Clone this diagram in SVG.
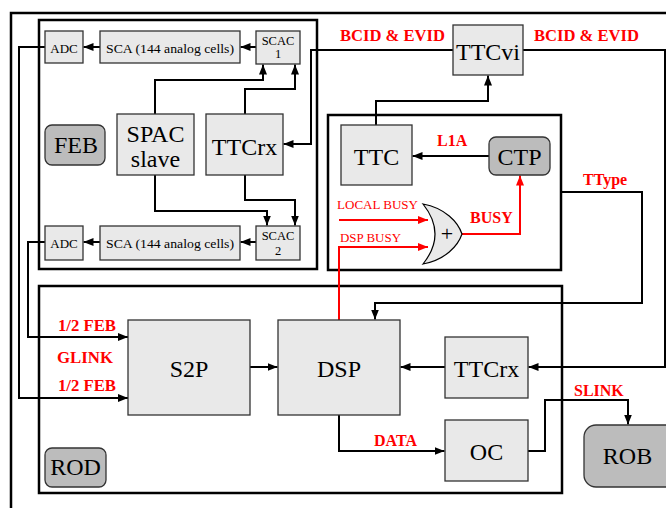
<svg xmlns="http://www.w3.org/2000/svg" width="666" height="508" viewBox="0 0 666 508">
<style>
text{fill:#000;font-family:Liberation Serif,Tinos,Times New Roman,Times,DejaVu Serif,serif}
.box{fill:#e9e9e9;stroke:#333;stroke-width:1.3}
.lbl{fill:#bcbcbc;stroke:#333;stroke-width:1.3}
.frame{fill:none;stroke:#000;stroke-width:2.5}
.big{font-size:24px;text-anchor:middle}
.sm{font-size:13px;text-anchor:middle}
.xs{font-size:12.5px;text-anchor:middle}
.red{fill:#ff0000;font-weight:bold;font-size:16px}
.redn{fill:#ff0000;font-size:13px}
.c{fill:none;stroke:#000;stroke-width:2}
.r{fill:none;stroke:#ff0000;stroke-width:2}
</style>
<defs>
<marker id="ab" viewBox="0 0 10 8" refX="10" refY="4" markerWidth="10" markerHeight="8" orient="auto" markerUnits="userSpaceOnUse"><path d="M0,0 L10,4 L0,8 z" fill="#000"/></marker>
<marker id="ar" viewBox="0 0 10 8" refX="10" refY="4" markerWidth="10" markerHeight="8" orient="auto" markerUnits="userSpaceOnUse"><path d="M0,0 L10,4 L0,8 z" fill="#ff0000"/></marker>
</defs>
<rect width="666" height="508" fill="#fff"/>
<path class="frame" d="M666,13 H11 V508"/>
<rect class="frame" x="39" y="20" width="278" height="249"/>
<rect class="frame" x="328" y="115" width="233" height="155"/>
<rect class="frame" x="39" y="286" width="523" height="207"/>

<g id="connectors">
<path class="c" d="M256,47 H240.5" marker-end="url(#ab)"/>
<path class="c" d="M100,47 H83.5" marker-end="url(#ab)"/>
<path class="c" d="M256,242 H240.5" marker-end="url(#ab)"/>
<path class="c" d="M100,242 H83.5" marker-end="url(#ab)"/>
<path class="c" d="M45,47 H19 V398 H128" marker-end="url(#ab)"/>
<path class="c" d="M45,242 H28 V337 H128" marker-end="url(#ab)"/>
<path class="c" d="M155,114 V80 H263 V64.5" marker-end="url(#ab)"/>
<path class="c" d="M245,114 V89 H295 V64.5" marker-end="url(#ab)"/>
<path class="c" d="M155,175 V211 H267 V225.5" marker-end="url(#ab)"/>
<path class="c" d="M245,175 V200 H295 V225.5" marker-end="url(#ab)"/>
<path class="c" d="M453,50 H311 V144 H283.5" marker-end="url(#ab)"/>
<path class="c" d="M523,50 H665 V367 H528.5" marker-end="url(#ab)"/>
<path class="c" d="M376,125 V101 H488 V75.5" marker-end="url(#ab)"/>
<path class="c" d="M489,156 H412.5" stroke-width="3.5" marker-end="url(#ab)"/>
<path class="c" d="M561,192 H642 V303 H375 V319.5" marker-end="url(#ab)"/>
<path class="c" d="M250,367 H277.5" marker-end="url(#ab)"/>
<path class="c" d="M445,367 H400.5" marker-end="url(#ab)"/>
<path class="c" d="M339,415 V451 H444.5" marker-end="url(#ab)"/>
<path class="c" d="M528,451 H545 V400 H628 V424.5" marker-end="url(#ab)"/>
<path class="r" d="M339,220 H428" stroke-width="3" marker-end="url(#ar)"/>
<path class="r" d="M339,320 V247 H428" marker-end="url(#ar)"/>
<path class="r" d="M462,234 H520 V175.5" marker-end="url(#ar)"/>
</g>

<g id="adc1"><rect class="box" x="45" y="31" width="38" height="32"/><text class="sm" x="64" y="53">ADC</text></g>
<g id="sca1"><rect class="box" x="100" y="31" width="140" height="32"/><text class="sm" x="170" y="53" textLength="128" lengthAdjust="spacingAndGlyphs">SCA (144 analog cells)</text></g>
<g id="scac1"><rect class="box" x="256" y="31" width="44" height="33"/><text class="xs" x="278" y="44.5">SCAC</text><text class="xs" x="278" y="57.5">1</text></g>
<g id="feb"><rect class="lbl" x="45" y="125" width="60" height="40" rx="7"/><text class="big" x="76" y="153" font-size="21.5">FEB</text></g>
<g id="spac"><rect class="box" x="117" y="114" width="77" height="61"/><text class="big" x="155.5" y="142">SPAC</text><text class="big" x="155.5" y="167">slave</text></g>
<g id="ttcrx1"><rect class="box" x="206" y="114" width="77" height="61"/><text class="big" x="244.5" y="155">TTCrx</text></g>
<g id="adc2"><rect class="box" x="45" y="226" width="38" height="34"/><text class="sm" x="64" y="248">ADC</text></g>
<g id="sca2"><rect class="box" x="100" y="226" width="140" height="34"/><text class="sm" x="170" y="248" textLength="128" lengthAdjust="spacingAndGlyphs">SCA (144 analog cells)</text></g>
<g id="scac2"><rect class="box" x="256" y="226" width="44" height="34"/><text class="xs" x="278" y="239.5">SCAC</text><text class="xs" x="278" y="255">2</text></g>

<g id="ttcvi"><rect class="box" x="453" y="25" width="70" height="50"/><text class="big" x="488" y="60">TTCvi</text></g>
<g id="ttc"><rect class="box" x="341" y="125" width="71" height="60"/><text class="big" x="376.5" y="165">TTC</text></g>
<g id="ctp"><rect class="lbl" x="489" y="137" width="61" height="38" rx="7"/><text class="big" x="519.5" y="165" font-size="23">CTP</text></g>
<g id="or"><path d="M423,204 C445,208 458,222 462,234 C458,246 445,260 423,264 Q447,234 423,204 Z" fill="#e9e9e9" stroke="#000" stroke-width="1.2"/><text x="447" y="241" font-size="22" text-anchor="middle">+</text></g>

<g id="s2p"><rect class="box" x="128" y="320" width="122" height="95"/><text class="big" x="189" y="377">S2P</text></g>
<g id="dsp"><rect class="box" x="278" y="320" width="122" height="95"/><text class="big" x="339" y="377">DSP</text></g>
<g id="ttcrx2"><rect class="box" x="445" y="337" width="83" height="61"/><text class="big" x="486.5" y="377">TTCrx</text></g>
<g id="oc"><rect class="box" x="445" y="420" width="83" height="61"/><text class="big" x="486.5" y="460">OC</text></g>
<g id="rod"><rect class="lbl" x="45" y="448" width="61" height="39" rx="7"/><text class="big" x="75.5" y="475" font-size="22">ROD</text></g>
<g id="rob"><rect class="lbl" x="584" y="425" width="95" height="62" rx="12"/><text class="big" x="627.5" y="464" font-size="22">ROB</text></g>

<g id="labels">
<text class="red" x="340" y="41" textLength="105" lengthAdjust="spacingAndGlyphs">BCID &amp; EVID</text>
<text class="red" x="534" y="41" textLength="105" lengthAdjust="spacingAndGlyphs">BCID &amp; EVID</text>
<text class="red" x="437" y="146">L1A</text>
<text class="red" x="583" y="185">TType</text>
<text class="red" x="470" y="223">BUSY</text>
<text class="redn" x="337" y="208.5" textLength="81" lengthAdjust="spacingAndGlyphs">LOCAL BUSY</text>
<text class="redn" x="340" y="242" textLength="61" lengthAdjust="spacingAndGlyphs">DSP BUSY</text>
<text class="red" x="58" y="331" textLength="58" lengthAdjust="spacingAndGlyphs">1/2 FEB</text>
<text class="red" x="57" y="363" textLength="56" lengthAdjust="spacingAndGlyphs">GLINK</text>
<text class="red" x="58" y="391" textLength="58" lengthAdjust="spacingAndGlyphs">1/2 FEB</text>
<text class="red" x="374" y="446">DATA</text>
<text class="red" x="574" y="396">SLINK</text>
</g>
</svg>
